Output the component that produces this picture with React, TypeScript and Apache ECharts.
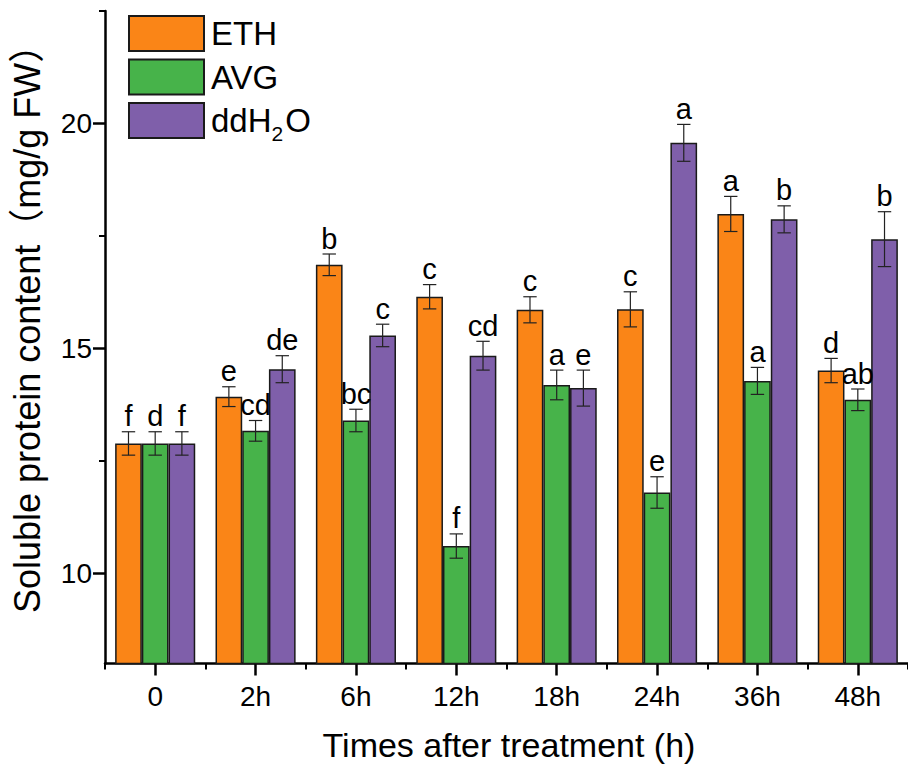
import React, { useEffect, useRef } from "react";
import * as echarts from "echarts";

const categories = ["0", "2h", "6h", "12h", "18h", "24h", "36h", "48h"];
const seriesNames = ["ETH", "AVG", "ddH2O"];
const ethValues = [12.89, 13.93, 16.86, 16.15, 15.86, 15.87, 17.99, 14.51];
const avgValues = [12.89, 13.17, 13.4, 10.61, 14.19, 11.8, 14.28, 13.86];
const ddh2oValues = [12.89, 14.54, 15.29, 14.84, 14.12, 19.57, 17.87, 17.43];
const ethErr = [0.26, 0.22, 0.24, 0.27, 0.29, 0.39, 0.39, 0.27];
const avgErr = [0.26, 0.23, 0.25, 0.27, 0.33, 0.35, 0.3, 0.24];
const ddh2oErr = [0.26, 0.3, 0.25, 0.32, 0.4, 0.41, 0.3, 0.61];
const ethLetters = ["f", "e", "b", "c", "c", "c", "a", "d"];
const avgLetters = ["d", "cd", "bc", "f", "a", "e", "a", "ab"];
const ddh2oLetters = ["f", "de", "c", "cd", "e", "a", "b", "b"];
const yMajorTicks = [10, 15, 20];
const yMinorTicks = [12.5, 17.5, 22.5];

const FONT = 'Arial, "Liberation Sans", "Noto Sans CJK SC", sans-serif';
const COLORS = ["#FA8517", "#47B34A", "#7F5FAA"];
const BAR_W = 26.7;

export default function App() {
  const ref = useRef<HTMLDivElement>(null);
  useEffect(() => {
    if (!ref.current) return;
    const chart = echarts.init(ref.current, null, { renderer: "svg" });
    const values = [ethValues, avgValues, ddh2oValues];
    const errs = [ethErr, avgErr, ddh2oErr];
    const letters = [ethLetters, avgLetters, ddh2oLetters];

    const barSeries = seriesNames.map((name, i) => ({
      type: "bar",
      name,
      data: values[i],
      barWidth: BAR_W,
      barGap: "0%",
      itemStyle: { color: COLORS[i], borderColor: "#1a1a1a", borderWidth: 1.5 },
      z: 2,
    }));

    const errSeries = seriesNames.map((name, i) => ({
      type: "custom",
      name: name + " error",
      coordinateSystem: "cartesian2d",
      xAxisIndex: 0,
      yAxisIndex: 0,
      z: 5,
      data: values[i].map((v, k) => [k, v, errs[i][k]]),
      encode: { x: 0, y: 1 },
      renderItem: (params: any, api: any) => {
        const idx = api.value(0);
        const v = api.value(1);
        const e = api.value(2);
        const c = api.coord([idx, v]);
        const x = c[0] + (i - 1) * BAR_W;
        const top = api.coord([idx, v + e])[1];
        const bot = api.coord([idx, v - e])[1];
        const cap = 6.7;
        const ls = { stroke: "#222", lineWidth: 1.2 };
        return {
          type: "group",
          children: [
            { type: "line", shape: { x1: x, y1: top, x2: x, y2: bot }, style: ls },
            { type: "line", shape: { x1: x - cap, y1: top, x2: x + cap, y2: top }, style: ls },
            { type: "line", shape: { x1: x - cap, y1: bot, x2: x + cap, y2: bot }, style: ls },
            {
              type: "text",
              x,
              y: top - 1,
              style: {
                text: letters[i][params.dataIndex],
                fontSize: 29,
                fontFamily: FONT,
                fill: "#000",
                align: "center",
                verticalAlign: "bottom",
              },
            },
          ],
        };
      },
    }));

    chart.setOption({
      animation: false,
      grid: { left: 105, right: -7, top: 11, bottom: 100.5, containLabel: false },
      legend: {
        data: seriesNames,
        orient: "vertical",
        left: 128,
        top: 15,
        padding: 0,
        itemWidth: 75,
        itemHeight: 35,
        itemGap: 6.5,
        icon: "rect",
        formatter: (name: string) =>
          name === "ddH2O" ? "{n|ddH}{s|2}{n|O}" : "{n|" + name + "}",
        textStyle: {
          fontSize: 33,
          fontFamily: FONT,
          color: "#000",
          rich: {
            n: { fontSize: 33, fontFamily: FONT, color: "#000", lineHeight: 46, padding: [0, 0, 0, 2] },
            s: { fontSize: 21, fontFamily: FONT, color: "#000", lineHeight: 46, verticalAlign: "bottom" },
          },
        },
      },
      xAxis: [
        {
          type: "category",
          data: categories,
          position: "bottom",
          axisLine: { show: true, onZero: false, lineStyle: { color: "#000", width: 2.5 } },
          axisTick: { show: true, alignWithLabel: true, length: 12, lineStyle: { color: "#000", width: 2.5 } },
          axisLabel: { fontSize: 28, fontFamily: FONT, color: "#000", margin: 19, interval: 0 },
          splitLine: { show: false },
        },
        {
          type: "category",
          data: categories,
          position: "bottom",
          axisLine: { show: false, onZero: false },
          axisTick: { show: true, alignWithLabel: false, interval: 0, length: 6, lineStyle: { color: "#000", width: 2 } },
          axisLabel: { show: false },
          splitLine: { show: false },
        },
      ],
      yAxis: [
        {
          type: "value",
          min: 8,
          max: 22.5,
          position: "left",
          axisLine: { show: true, lineStyle: { color: "#000", width: 2.5 } },
          axisTick: { show: true, customValues: yMajorTicks, length: 12, lineStyle: { color: "#000", width: 2.5 } },
          axisLabel: { customValues: yMajorTicks, fontSize: 28, fontFamily: FONT, color: "#000", margin: 13 },
          splitLine: { show: false },
        },
        {
          type: "value",
          min: 8,
          max: 22.5,
          position: "left",
          axisLine: { show: false },
          axisTick: { show: true, customValues: yMinorTicks, length: 6, lineStyle: { color: "#000", width: 2 } },
          axisLabel: { show: false },
          splitLine: { show: false },
        },
      ],
      graphic: [
        {
          type: "text",
          x: 509,
          y: 745,
          style: {
            text: "Times after treatment (h)",
            fontSize: 34,
            fontFamily: FONT,
            fill: "#000",
            align: "center",
            verticalAlign: "middle",
          },
        },
        {
          type: "text",
          x: 27,
          y: 613,
          rotation: Math.PI / 2,
          style: {
            text: "Soluble protein content（mg/g FW）",
            fontSize: 36,
            fontFamily: FONT,
            fill: "#000",
            align: "left",
            verticalAlign: "middle",
          },
        },
      ],
      series: [...barSeries, ...errSeries],
    });
    return () => chart.dispose();
  }, []);
  return (
    <div
      ref={ref}
      style={{ position: "absolute", left: 0, top: 0, width: 908, height: 764, background: "#fff" }}
    />
  );
}
